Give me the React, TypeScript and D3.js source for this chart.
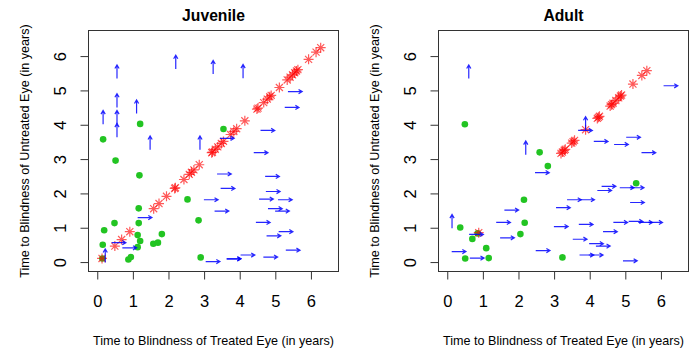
import React from 'react';
import * as d3 from 'd3';

// ---- Juvenile ----
// both eyes blind at (about) the same time -> on the diagonal
const juvStar = [0.12, 0.48, 0.67, 0.90, 1.57, 1.72, 1.93, 2.16, 2.18, 2.42, 2.57, 2.63, 2.70, 2.85, 3.20, 3.22, 3.30, 3.37, 3.47, 3.53, 3.73, 3.82, 3.90, 4.13, 4.47, 4.50, 4.66, 4.76, 4.83, 4.87, 5.10, 5.32, 5.40, 5.47, 5.53, 5.58, 5.62, 5.92, 6.13, 6.26];
const juvDotX = [0.15, 0.50, 1.19, 3.53, 1.17, 2.52, 1.15, 0.47, 1.15, 0.18, 1.12, 1.80, 1.19, 0.14, 1.56, 1.69, 1.12, 0.86, 0.93, 2.83, 2.89, 0.13];
const juvDotY = [3.59, 2.97, 4.04, 3.89, 2.54, 1.84, 1.58, 1.15, 1.15, 0.94, 0.80, 0.83, 0.63, 0.52, 0.55, 0.58, 0.45, 0.09, 0.16, 1.23, 0.15, 0.12];
const juvRightX = [5.34, 5.25, 4.57, 4.38, 3.43, 3.35, 4.70, 3.45, 4.72, 2.98, 4.53, 5.06, 3.28, 4.78, 4.98, 4.44, 5.08, 4.74, 5.28, 3.03, 3.62, 3.62, 4.01, 4.65, 1.12, 0.39, 0.69];
const juvRightY = [4.98, 4.52, 3.85, 3.20, 3.62, 2.58, 2.51, 2.16, 2.07, 1.83, 1.85, 1.83, 1.50, 1.57, 1.50, 1.17, 0.90, 0.78, 0.36, 0.03, 0.11, 0.11, 0.22, 0.16, 1.31, 0.58, 0.43];
const juvUpX = [0.15, 0.54, 0.54, 0.54, 0.54, 1.09, 1.47, 2.19, 3.24, 4.08, 2.87, 0.21];
const juvUpY = [4.03, 5.36, 4.52, 4.03, 3.65, 4.34, 3.29, 5.64, 5.49, 5.37, 3.29, 0.00];

// ---- Adult ----
const adultStar = [0.87, 3.18, 3.22, 3.27, 3.30, 3.48, 3.52, 3.56, 3.87, 4.20, 4.23, 4.26, 4.56, 4.60, 4.64, 4.72, 4.80, 4.85, 4.88, 5.20, 5.45, 5.59];
const adultDotX = [0.48, 2.58, 2.81, 5.29, 2.14, 2.16, 2.04, 0.35, 0.69, 0.84, 1.08, 0.49, 1.15, 3.22];
const adultDotY = [4.03, 3.21, 2.81, 2.31, 1.83, 1.16, 0.83, 1.02, 0.69, 0.85, 0.42, 0.12, 0.13, 0.15];
const adultRightX = [0.11, 0.62, 0.60, 1.59, 1.36, 1.47, 2.45, 2.47, 3.66, 4.10, 4.67, 5.01, 5.44, 4.32, 4.20, 4.83, 5.11, 3.35, 3.72, 3.04, 5.12, 2.98, 3.68, 4.65, 5.08, 5.35, 5.63, 4.36, 3.51, 3.97, 4.16, 3.70, 3.96, 4.92, 6.06];
const adultRightY = [0.32, 0.13, 0.82, 1.53, 1.17, 0.72, 2.62, 0.35, 3.85, 3.53, 3.44, 3.65, 3.20, 2.22, 2.10, 2.18, 2.18, 1.83, 1.83, 1.60, 1.75, 1.05, 1.11, 1.17, 1.20, 1.17, 1.17, 0.90, 0.68, 0.55, 0.48, 0.22, 0.22, 0.05, 5.15];
const adultUpX = [0.59, 2.19, 3.87, 0.12];
const adultUpY = [5.36, 3.14, 3.85, 1.00];

const tickValues = [0, 1, 2, 3, 4, 5, 6];
const xTitle = 'Time to Blindness of Treated Eye (in years)';
const yTitle = 'Time to Blindness of Untreated Eye (in years)';

const FONT = '"Liberation Sans", Arial, Helvetica, sans-serif';
const ARROW_LEN = 0.4; // data units
const STAR_R = 5;

const left = 88.5, right = 338.5, top = 30.5, bottom = 271.5;

const Panel = (props: any) => {
  const { title, ox, star, dotX, dotY, rightX, rightY, upX, upY } = props;
  const x = d3.scaleLinear().domain([-0.26, 6.76]).range([left, right]);
  const y = d3.scaleLinear().domain([-0.26, 6.76]).range([bottom, top]);
  const hx = 3.6, hy = 2.1;

  const starPath = (v: number) => {
    const cx = x(v), cy = y(v), r = STAR_R, d = r * Math.SQRT1_2;
    return `M${cx - r},${cy}L${cx + r},${cy}M${cx},${cy - r}L${cx},${cy + r}` +
      `M${cx - d},${cy - d}L${cx + d},${cy + d}M${cx - d},${cy + d}L${cx + d},${cy - d}`;
  };
  const rightPath = (a: number, b: number) => {
    const x0 = x(a), x1 = x(a + ARROW_LEN), yy = y(b);
    return `M${x0},${yy}L${x1},${yy}M${x1 - hx},${yy - hy}L${x1},${yy}L${x1 - hx},${yy + hy}`;
  };
  const upPath = (a: number, b: number) => {
    const xx = x(a), y0 = y(b), y1 = y(b + ARROW_LEN);
    return `M${xx},${y0}L${xx},${y1}M${xx - hy},${y1 + hx}L${xx},${y1}L${xx + hy},${y1 + hx}`;
  };

  return (
    <g transform={`translate(${ox},0)`}>
      <text x={(left + right) / 2} y={21} textAnchor="middle" fontFamily={FONT}
        fontWeight="bold" fontSize={15.7}>{title}</text>

      {dotX.map((d: number, i: number) => (
        <circle key={'d' + i} cx={x(d)} cy={y(dotY[i])} r={3.3} fill="#22c422" />
      ))}
      {star.map((d: number, i: number) => (
        <path key={'s' + i} d={starPath(d)} stroke="#ff0000" strokeOpacity={0.65}
          strokeWidth={1.2} fill="none" />
      ))}
      {rightX.map((d: number, i: number) => (
        <path key={'r' + i} d={rightPath(d, rightY[i])} stroke="#0000ff" strokeOpacity={0.85}
          strokeWidth={1.2} fill="none" />
      ))}
      {upX.map((d: number, i: number) => (
        <path key={'u' + i} d={upPath(d, upY[i])} stroke="#0000ff" strokeOpacity={0.85}
          strokeWidth={1.2} fill="none" />
      ))}

      <rect x={left} y={top} width={right - left} height={bottom - top} fill="none" stroke="#333" />

      {tickValues.map(t => (
        <g key={'xt' + t}>
          <line x1={x(t)} x2={x(t)} y1={bottom} y2={bottom + 8} stroke="#333" />
          <text x={x(t)} y={307} textAnchor="middle" fontFamily={FONT} fontSize={16.5}>{t}</text>
        </g>
      ))}
      {tickValues.map(t => (
        <g key={'yt' + t}>
          <line x1={left - 8} x2={left} y1={y(t)} y2={y(t)} stroke="#333" />
          <text transform={`translate(66,${y(t)}) rotate(-90)`} textAnchor="middle"
            fontFamily={FONT} fontSize={16.5}>{t}</text>
        </g>
      ))}

      <text x={(left + right) / 2} y={345} textAnchor="middle" fontFamily={FONT} fontSize={12.6}>{xTitle}</text>
      <text transform={`translate(29,${(top + bottom) / 2}) rotate(-90)`} textAnchor="middle"
        fontFamily={FONT} fontSize={12.6}>{yTitle}</text>
    </g>
  );
};

export default function App() {
  return (
    <svg width={700} height={350} style={{ position: 'absolute', left: 0, top: 0, background: '#fff' }}>
      <Panel title="Juvenile" ox={0} star={juvStar} dotX={juvDotX} dotY={juvDotY}
        rightX={juvRightX} rightY={juvRightY} upX={juvUpX} upY={juvUpY} />
      <Panel title="Adult" ox={350} star={adultStar} dotX={adultDotX} dotY={adultDotY}
        rightX={adultRightX} rightY={adultRightY} upX={adultUpX} upY={adultUpY} />
    </svg>
  );
}
